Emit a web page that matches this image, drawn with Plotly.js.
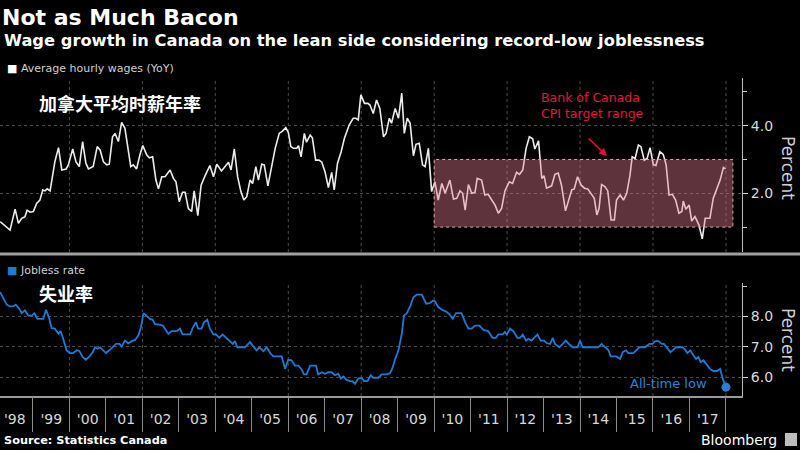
<!DOCTYPE html>
<html><head><meta charset="utf-8">
<script src="https://cdn.plot.ly/plotly-3.0.1.min.js"></script>
<style>html,body{margin:0;padding:0;background:#000;}#chart{width:800px;height:450px;}</style>
</head><body><div id="chart"></div>
<script>
// Average hourly wages, YoY % (time as decimal year)
const wageT = [1998.10,1998.37,1998.51,1998.60,1998.69,1998.78,1998.84,1998.92,1999.01,1999.10,1999.19,1999.27,1999.33,1999.39,1999.47,1999.54,1999.60,1999.70,1999.79,1999.91,1999.97,
2000.09,2000.18,2000.27,2000.36,2000.45,2000.52,2000.65,2000.76,2000.84,2000.93,2001.02,2001.09,2001.18,2001.25,2001.34,2001.43,2001.52,2001.61,2001.68,2001.75,2001.84,2001.93,
2002.01,2002.12,2002.19,2002.28,2002.37,2002.44,2002.53,2002.62,2002.76,2002.85,2002.92,2003.01,2003.10,2003.17,2003.26,2003.35,2003.42,2003.52,2003.61,2003.72,2003.85,2003.95,
2004.04,2004.17,2004.27,2004.36,2004.43,2004.52,2004.61,2004.70,2004.78,2004.86,2004.95,2005.02,2005.11,2005.18,2005.27,2005.34,2005.44,2005.53,2005.64,2005.75,2005.84,2005.93,
2006.00,2006.07,2006.14,2006.23,2006.28,2006.35,2006.44,2006.50,2006.60,2006.66,2006.75,2006.84,2006.92,2007.01,2007.10,2007.19,2007.26,2007.35,2007.45,2007.54,2007.67,2007.78,2007.85,2007.92,2007.99,
2008.09,2008.18,2008.24,2008.33,2008.42,2008.51,2008.61,2008.68,2008.77,2008.83,2008.93,2009.02,2009.11,2009.18,2009.26,2009.34,2009.43,2009.50,2009.59,2009.68,2009.75,2009.84,2009.93,
2010.02,2010.11,2010.21,2010.30,2010.43,2010.53,2010.62,2010.71,2010.78,2010.85,2010.94,2011.03,2011.12,2011.18,2011.30,2011.39,2011.48,2011.58,2011.67,2011.76,2011.85,2011.94,
2012.06,2012.15,2012.26,2012.34,2012.43,2012.52,2012.61,2012.70,2012.76,2012.86,2012.95,2013.01,2013.08,2013.22,2013.31,2013.40,2013.49,2013.60,2013.68,2013.77,2013.84,2013.93,
2014.03,2014.12,2014.21,2014.32,2014.39,2014.46,2014.52,2014.59,2014.68,2014.76,2014.85,2014.94,2015.00,2015.10,2015.19,2015.28,2015.37,2015.43,2015.51,2015.60,2015.67,2015.76,2015.84,2015.92,
2016.01,2016.08,2016.19,2016.28,2016.36,2016.44,2016.53,2016.62,2016.71,2016.79,2016.83,2016.90,2016.99,2017.06,2017.15,2017.26,2017.35,2017.43,2017.56,2017.65,2017.75,2017.84,2017.93,2017.99];
const wageV = [1.16,0.91,1.53,1.11,1.26,1.31,1.50,1.44,1.46,1.70,1.80,2.10,2.07,2.13,2.07,2.54,2.93,3.35,2.69,2.72,2.84,
3.31,2.93,2.79,3.53,2.89,2.72,2.79,3.38,3.28,2.93,2.84,2.86,3.67,3.77,3.53,4.10,3.92,3.23,2.79,2.84,2.72,3.13,
3.41,3.13,3.05,3.08,2.39,2.13,2.49,2.49,2.69,2.44,2.34,1.75,2.03,2.03,1.55,1.46,2.07,1.34,2.24,2.52,2.82,2.49,
2.86,2.66,2.79,2.92,2.69,3.31,2.49,2.05,1.80,1.90,2.39,2.29,2.79,2.39,2.86,2.84,2.22,2.74,3.33,3.77,3.84,3.94,
3.80,3.38,3.33,3.33,3.41,3.08,3.77,3.51,3.72,3.64,2.98,2.98,2.92,2.62,2.17,2.62,2.10,2.89,3.23,3.63,4.02,4.22,4.22,4.17,4.91,
4.66,4.66,4.61,4.36,4.76,4.51,3.67,3.77,4.22,4.07,4.51,4.22,4.96,3.77,4.22,4.07,3.11,3.45,3.48,2.84,2.79,3.33,2.05,
2.34,1.80,2.29,2.00,2.39,1.83,1.85,2.07,2.00,1.50,2.26,2.00,2.03,2.44,2.39,1.95,1.97,1.80,1.65,1.41,1.55,2.07,
2.34,2.29,2.62,2.56,2.69,3.33,3.67,3.61,3.31,3.55,2.44,2.52,2.15,2.22,2.56,2.60,2.24,1.48,1.80,2.10,2.13,2.49,
2.24,2.15,2.13,1.95,1.85,1.36,1.55,2.26,2.20,2.07,1.21,1.21,1.80,1.95,1.80,2.00,2.54,3.08,3.03,3.43,3.38,2.98,3.03,3.35,
2.84,2.82,3.23,3.15,2.84,1.95,1.97,1.80,1.41,1.46,1.77,1.53,1.65,1.18,1.31,1.06,0.65,1.26,1.26,1.85,2.15,2.39,2.76,2.72];

// Jobless rate, % (time as decimal year)
const joblessT = [1998.10,1998.19,1998.28,1998.37,1998.46,1998.53,1998.63,1998.69,1998.78,1998.87,1998.96,1999.04,1999.12,1999.24,1999.28,1999.36,1999.45,1999.51,1999.60,1999.70,1999.76,1999.83,1999.92,
2000.01,2000.10,2000.20,2000.27,2000.36,2000.45,2000.55,2000.64,2000.70,2000.77,2000.84,2000.93,2001.00,2001.09,2001.18,2001.28,2001.37,2001.43,2001.52,2001.61,2001.71,2001.80,2001.89,2001.96,
2002.03,2002.12,2002.21,2002.28,2002.35,2002.44,2002.56,2002.62,2002.71,2002.80,2002.94,2003.03,2003.10,2003.21,2003.31,2003.38,2003.47,2003.53,2003.62,2003.69,2003.78,2003.85,2003.95,
2004.02,2004.11,2004.20,2004.29,2004.38,2004.48,2004.54,2004.60,2004.67,2004.81,2004.90,2004.95,2005.04,2005.13,2005.21,2005.32,2005.41,2005.50,2005.59,2005.68,2005.82,2005.91,
2006.00,2006.09,2006.18,2006.28,2006.37,2006.43,2006.50,2006.60,2006.69,2006.76,2006.82,2006.92,2007.01,2007.10,2007.19,2007.28,2007.37,2007.44,2007.51,2007.60,2007.69,2007.76,2007.83,2007.92,
2008.01,2008.08,2008.17,2008.26,2008.33,2008.47,2008.56,2008.70,2008.79,2008.86,2008.93,2009.02,2009.11,2009.17,2009.25,2009.34,2009.43,2009.52,2009.66,2009.78,2009.87,2009.96,
2010.02,2010.11,2010.21,2010.32,2010.42,2010.51,2010.60,2010.75,2010.85,2010.94,2011.03,2011.12,2011.24,2011.35,2011.48,2011.60,2011.69,2011.76,2011.88,2011.94,2011.99,
2012.08,2012.17,2012.28,2012.35,2012.43,2012.52,2012.58,2012.67,2012.83,2012.92,2013.01,2013.08,2013.18,2013.25,2013.31,2013.43,2013.52,2013.61,2013.71,2013.80,2013.93,
2014.00,2014.07,2014.27,2014.50,2014.59,2014.68,2014.78,2014.84,2014.99,2015.10,2015.17,2015.26,2015.32,2015.46,2015.55,2015.63,2015.78,2015.90,2015.99,
2016.06,2016.15,2016.24,2016.30,2016.38,2016.48,2016.56,2016.63,2016.81,2016.88,2016.94,2017.02,2017.09,2017.18,2017.24,2017.31,2017.38,2017.47,2017.56,2017.65,2017.75,2017.84,2017.91,2018.00];
const joblessV = [8.80,8.58,8.39,8.33,8.33,8.39,8.25,8.11,8.20,8.03,8.03,8.11,7.92,7.92,7.92,8.22,7.92,7.62,7.60,7.43,7.52,7.27,6.89,
6.80,6.80,6.89,6.87,6.67,6.58,6.69,6.83,6.99,6.94,6.99,6.89,6.80,6.89,6.99,7.10,7.10,7.02,7.21,7.12,7.19,7.23,7.38,7.65,
8.11,8.03,7.92,7.89,7.74,7.74,7.70,7.60,7.43,7.52,7.52,7.60,7.41,7.41,7.41,7.63,7.81,7.60,7.60,7.81,7.89,7.60,7.41,
7.41,7.30,7.41,7.30,7.21,7.10,7.19,6.99,6.99,6.99,7.10,7.16,7.02,6.89,6.99,6.86,6.99,6.80,6.69,6.69,6.69,6.28,
6.58,6.56,6.39,6.39,6.25,6.10,6.10,6.39,6.39,6.39,6.10,6.17,6.12,6.17,6.17,6.07,6.12,5.96,6.03,5.92,5.88,5.88,5.79,5.96,
5.99,5.88,5.88,6.07,5.99,5.99,6.10,6.10,6.14,6.32,6.61,6.89,7.43,8.03,8.11,8.33,8.63,8.72,8.72,8.42,8.44,8.52,
8.50,8.31,8.22,8.17,8.07,7.92,8.11,8.11,7.81,7.60,7.60,7.70,7.70,7.56,7.52,7.30,7.30,7.41,7.41,7.49,7.41,
7.60,7.52,7.30,7.30,7.41,7.21,7.27,7.21,7.41,7.21,7.21,7.13,7.10,7.30,7.10,6.99,7.10,7.21,7.08,6.99,6.99,
7.21,6.99,6.99,6.99,7.10,6.99,6.89,6.69,6.69,6.61,6.83,6.89,6.80,6.80,6.89,6.99,6.99,7.10,7.10,
7.19,7.19,7.10,7.10,6.99,6.83,6.91,6.99,6.99,6.91,6.80,6.89,6.75,6.61,6.67,6.50,6.56,6.43,6.28,6.21,6.21,6.28,5.96,5.68];

// Bank of Canada CPI target range band
const bandStart = 2010.0, bandEnd = 2018.19, bandLow = 1.0, bandHigh = 3.0;
const gridYears = [2000,2002,2004,2006,2008,2010,2012,2014,2016,2018];
const xStart = 1998.095, xEnd = 2018.44;

function toDate(t){
  const y = Math.floor(t), f = t - y;
  const a = Date.UTC(y,0,1), b = Date.UTC(y+1,0,1);
  return new Date(a + f*(b-a)).toISOString().slice(0,19).replace('T',' ');
}

// paper coordinate helpers (plot area: x 0..742 px, y 78..396 px)
const PW = 742, PT = 78, PB = 396, PH = PB - PT;
const px = v => v / PW;
const py = v => (PB - v) / PH;

const wageX = wageT.map(toDate);
const jobX = joblessT.map(toDate);

const traces = [
  {x: wageX, y: wageV, type:'scatter', mode:'lines', xaxis:'x', yaxis:'y',
   line:{color:'#ececec', width:1.6}, hoverinfo:'skip'},
  {x: jobX, y: joblessV, type:'scatter', mode:'lines', xaxis:'x', yaxis:'y2',
   line:{color:'#1e7ad4', width:1.8}, hoverinfo:'skip'},
  {x: [jobX[jobX.length-1]], y: [joblessV[joblessV.length-1]], type:'scatter', mode:'markers',
   xaxis:'x', yaxis:'y2', marker:{size:9, color:'#2a7fd0'}, hoverinfo:'skip'}
];

const shapes = [];
gridYears.forEach(yr => {
  const d = toDate(yr);
  ['y domain','y2 domain'].forEach(ref => shapes.push({type:'line', xref:'x', yref:ref,
    x0:d, x1:d, y0:0, y1:1, layer:'below', line:{color:'#4a4a4a', width:1, dash:'dot'}}));
});
shapes.push({type:'rect', xref:'x', yref:'y', x0:toDate(bandStart), x1:toDate(bandEnd),
  y0:bandLow, y1:bandHigh, layer:'above', fillcolor:'rgba(229,124,144,0.41)',
  line:{color:'#e8a0aa', width:1, dash:'dot'}});
shapes.push({type:'line', xref:'paper', yref:'paper', x0:0, x1:800/PW, y0:py(254), y1:py(254),
  line:{color:'#a0a0a0', width:3}});
shapes.push({type:'rect', xref:'paper', yref:'paper', x0:px(785), x1:px(797), y0:py(446), y1:py(433),
  fillcolor:'#bdbdbd', line:{width:0}});

const F = 'DejaVu Sans, Verdana, sans-serif';
const CJK = 'Noto Sans CJK SC, sans-serif';
const annotations = [
  {xref:'paper', yref:'paper', x:px(2), y:py(41), xanchor:'left', yanchor:'middle', showarrow:false,
   text:'<b>Wage growth in Canada on the lean side considering record-low joblessness</b>',
   font:{family:F, size:16.3, color:'#ffffff'}},
  {xref:'paper', yref:'paper', x:px(5), y:py(68), xanchor:'left', yanchor:'middle', showarrow:false,
   text:'<span style="color:#ffffff">■</span> Average hourly wages (YoY)', font:{family:F, size:11, color:'#cfcfcf'}},
  {xref:'paper', yref:'paper', x:px(5), y:py(270), xanchor:'left', yanchor:'middle', showarrow:false,
   text:'<span style="color:#1e7ad4">■</span> Jobless rate', font:{family:F, size:11, color:'#cfcfcf'}},
  {xref:'paper', yref:'paper', x:px(37), y:py(103), xanchor:'left', yanchor:'middle', showarrow:false,
   text:'<b>加拿大平均时薪年率</b>', font:{family:CJK, size:18, color:'#ffffff'}},
  {xref:'paper', yref:'paper', x:px(37), y:py(293), xanchor:'left', yanchor:'middle', showarrow:false,
   text:'<b>失业率</b>', font:{family:CJK, size:18, color:'#ffffff'}},
  {xref:'paper', yref:'paper', x:px(539), y:py(105), xanchor:'left', yanchor:'middle', showarrow:false,
   align:'left', text:'Bank of Canada<br>CPI target range', font:{family:F, size:12.5, color:'#e3173a'}},
  {xref:'x', yref:'y', x:toDate(2014.74), y:3.10, ax:-20, ay:-19, text:'', showarrow:true,
   arrowhead:2, arrowsize:1, arrowwidth:1.6, arrowcolor:'#e8102e', standoff:0},
  {xref:'paper', yref:'paper', x:px(709), y:py(383), xanchor:'right', yanchor:'middle', showarrow:false,
   text:'All-time low', font:{family:F, size:13, color:'#2a84db'}},
  {xref:'paper', yref:'paper', x:px(788), y:py(168), xanchor:'center', yanchor:'middle', showarrow:false,
   textangle:90, text:'Percent', font:{family:F, size:17, color:'#cfcfcf'}},
  {xref:'paper', yref:'paper', x:px(788), y:py(340), xanchor:'center', yanchor:'middle', showarrow:false,
   textangle:90, text:'Percent', font:{family:F, size:17, color:'#cfcfcf'}},
  {xref:'paper', yref:'paper', x:px(2), y:py(440), xanchor:'left', yanchor:'middle', showarrow:false,
   text:'<b>Source: Statistics Canada</b>', font:{family:F, size:11.3, color:'#ffffff'}},
  {xref:'paper', yref:'paper', x:px(779), y:py(440), xanchor:'right', yanchor:'middle', showarrow:false,
   text:'Bloomberg', font:{family:F, size:14, color:'#ffffff'}}
];

const yCommon = {side:'right', anchor:'x', showline:true, linecolor:'#bdbdbd', linewidth:1,
  ticks:'outside', ticklen:5, tickcolor:'#cfcfcf', tickwidth:1, tickformat:'.1f',
  showgrid:true, gridcolor:'#4a4a4a', griddash:'dot', gridwidth:1, zeroline:false,
  tickfont:{family:F, size:14, color:'#d8d8d8'}, fixedrange:true};

const layout = {
  width:800, height:450, paper_bgcolor:'#000', plot_bgcolor:'#000',
  margin:{l:0, r:800-PW, t:PT, b:450-PB, pad:0}, showlegend:false,
  font:{family:F, color:'#d0d0d0'},
  title:{text:'<b>Not as Much Bacon</b>', x:0.0025, xanchor:'left', y:1-17/450, yanchor:'middle',
    font:{family:F, size:22, color:'#ffffff'}},
  xaxis:{type:'date', range:[toDate(xStart), toDate(xEnd)], anchor:'y2', domain:[0,1],
    showgrid:false, zeroline:false, showline:true, linecolor:'#9a9a9a', linewidth:1.5,
    ticks:'outside', ticklen:34, tickwidth:1, tickcolor:'#8a8a8a',
    dtick:'M12', tick0:'1998-01-01', ticklabelmode:'period', tickformat:"'%y",
    ticklabelstandoff:-24, tickfont:{family:F, size:14, color:'#d8d8d8'}, fixedrange:true},
  yaxis:Object.assign({}, yCommon, {domain:[py(252), 1], range:[0.263, 5.41], tickvals:[2,4],
    minor:{tickvals:[1,3,5], ticks:'outside', ticklen:4, tickcolor:'#cfcfcf', showgrid:false}}),
  yaxis2:Object.assign({}, yCommon, {domain:[0, py(283)], range:[5.39, 9.10], tickvals:[6,7,8],
    minor:{tickvals:[9], ticks:'outside', ticklen:4, tickcolor:'#cfcfcf', showgrid:false}}),
  shapes:shapes, annotations:annotations
};

Plotly.newPlot('chart', traces, layout, {staticPlot:true, displayModeBar:false});
</script></body></html>
